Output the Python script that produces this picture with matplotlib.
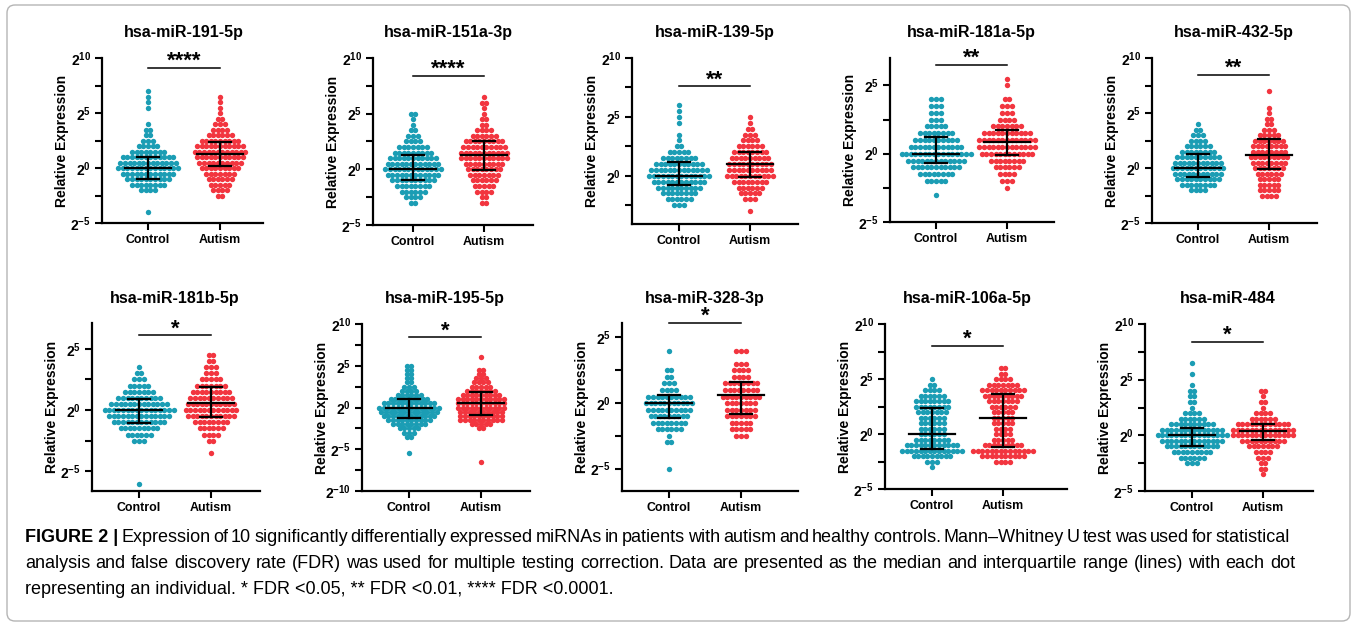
import numpy as np
import matplotlib
matplotlib.use("Agg")
import matplotlib.pyplot as plt
from matplotlib import font_manager
from matplotlib.patches import FancyBboxPatch
from matplotlib.transforms import blended_transform_factory

W, H = 1355, 625

groups = ["Control", "Autism"]
mirnas = ["hsa-miR-191-5p", "hsa-miR-151a-3p", "hsa-miR-139-5p", "hsa-miR-181a-5p",
          "hsa-miR-432-5p", "hsa-miR-181b-5p", "hsa-miR-195-5p", "hsa-miR-328-3p",
          "hsa-miR-106a-5p", "hsa-miR-484"]
stars = ["****", "****", "**", "**", "**", "*", "*", "*", "*", "*"]

# number of individuals per log2 level (0.5 steps), starting from the lowest level
step = 0.5
ctrl_low = [-4, -3, -2.5, -3, -2, -6, -5.5, -5, -3, -2.5]
ctrl_counts = [
    [1, 0, 0, 0, 4, 8, 10, 12, 14, 13, 12, 8, 5, 3, 2, 2, 1, 0, 0, 1, 1, 1, 1],
    [2, 4, 6, 8, 10, 12, 13, 12, 11, 9, 7, 4, 3, 2, 1, 1, 2],
    [3, 6, 8, 10, 12, 14, 13, 11, 8, 5, 2, 1, 1, 0, 1, 1, 1, 1],
    [1, 0, 5, 8, 11, 13, 16, 12, 10, 8, 5, 3, 3, 3, 3],
    [4, 8, 10, 11, 12, 11, 10, 8, 6, 4, 3, 2, 1],
    [1, 0, 0, 0, 0, 0, 0, 3, 6, 9, 12, 14, 16, 13, 10, 7, 5, 3, 2, 1],
    [1, 0, 0, 0, 2, 3, 5, 8, 10, 12, 13, 14, 12, 9, 6, 4, 3, 2, 2, 2, 2, 2],
    [1, 0, 0, 0, 2, 1, 6, 8, 9, 10, 11, 10, 4, 3, 2, 2, 0, 0, 1],
    [1, 3, 9, 14, 12, 8, 6, 6, 6, 6, 7, 8, 8, 6, 4, 2, 1],
    [3, 6, 9, 12, 14, 16, 14, 10, 6, 4, 1, 2, 2, 2, 1, 0, 1, 0, 1],
]
aut_low = [-2.5, -3, -3, -2.5, -2.5, -3.5, -6.5, -2.5, -2.5, -3.5]
aut_counts = [
    [2, 4, 5, 6, 7, 9, 10, 11, 12, 11, 9, 6, 4, 3, 2, 1, 1, 1, 1],
    [2, 2, 4, 5, 6, 7, 8, 9, 11, 11, 10, 9, 6, 4, 2, 2, 1, 1, 2, 1],
    [1, 0, 3, 5, 6, 8, 11, 10, 10, 9, 8, 6, 4, 3, 2, 1, 1],
    [1, 3, 4, 6, 8, 12, 13, 13, 11, 7, 4, 3, 3, 2, 0, 1, 1],
    [4, 5, 5, 5, 6, 7, 8, 9, 8, 8, 7, 5, 3, 2, 2, 1, 1, 0, 0, 1],
    [1, 0, 2, 4, 6, 8, 11, 12, 11, 10, 9, 7, 5, 3, 3, 2, 2],
    [1, 0, 0, 0, 0, 0, 0, 0, 2, 5, 10, 10, 10, 11, 11, 11, 9, 7, 5, 4, 3, 2, 2, 0, 0, 1],
    [3, 5, 5, 7, 7, 7, 9, 8, 8, 4, 4, 3, 0, 3],
    [4, 10, 14, 9, 5, 4, 4, 5, 5, 5, 6, 7, 9, 10, 7, 4, 2, 2],
    [1, 2, 2, 3, 4, 7, 10, 14, 14, 12, 6, 4, 1, 2, 1, 2],
]

# median and interquartile range (log2)
ctrl_med = [0, 0, 0, 0, 0, 0, 0, 0, 0, 0]
ctrl_q1 = [-1.0, -1.0, -0.75, -0.65, -0.85, -1.05, -1.2, -1.15, -1.4, -1.0]
ctrl_q3 = [1.0, 1.3, 1.2, 1.25, 1.3, 0.9, 1.0, 0.6, 2.35, 0.65]
aut_med = [1.3, 1.25, 1.0, 0.85, 1.15, 0.55, 0.5, 0.6, 1.5, 0.35]
aut_q1 = [0.2, -0.05, -0.1, -0.1, -0.1, -0.55, -0.9, -0.85, -1.2, -0.4]
aut_q3 = [2.4, 2.55, 2.05, 1.7, 2.65, 1.85, 1.85, 1.6, 3.65, 1.05]

# significance bracket height (log2)
sig_y = [9.1, 8.4, 7.6, 6.5, 8.5, 6.1, 8.4, 6.1, 8.0, 8.4]

caption1 = ("Expression of 10 significantly differentially expressed miRNAs in patients "
            "with autism and healthy controls. Mann\u2013Whitney U test was used for statistical")
caption2 = ("analysis and false discovery rate (FDR) was used for multiple testing correction. "
            "Data are presented as the median and interquartile range (lines) with each dot")
caption3 = "representing an individual. * FDR <0.05, ** FDR <0.01, **** FDR <0.0001."

plt.rcParams["font.family"] = ["Liberation Sans", "DejaVu Sans"]
plt.rcParams["mathtext.fontset"] = "custom"
plt.rcParams["mathtext.rm"] = "Liberation Sans"
plt.rcParams["mathtext.bf"] = "Liberation Sans:bold"

teal = "#1b9db4"
red = "#f2353f"

# panel frames in pixels: left, top, right, bottom, x of Control, x of Autism
frames = [
    (102, 58, 263, 223, 148, 220),
    (373, 58, 533, 225, 413, 484),
    (632, 58, 798, 224, 679, 750),
    (890, 58, 1054, 222, 936, 1007),
    (1152, 58, 1317, 223, 1198, 1269),
    (92, 323, 260, 491, 139, 211),
    (362, 324, 530, 491, 409, 481),
    (622, 323, 798, 491, 669, 741),
    (885, 324, 1067, 489, 932, 1003),
    (1145, 324, 1313, 491, 1192, 1263),
]
ylims = [(-5, 10), (-5, 10), (-4.1, 10), (-5, 7), (-5, 10),
         (-6.6, 7.1), (-10, 10), (-6.7, 6.1), (-5, 10), (-5, 10)]
title_y = [32] * 5 + [299] * 5

fig = plt.figure(figsize=(W / 100, H / 100), dpi=100)


def px_rect(l, t, r, b):
    return [l / W, 1 - b / H, (r - l) / W, (b - t) / H]


for i in range(10):
    l, t, r, b, c0, c1 = frames[i]
    ax = fig.add_axes(px_rect(l, t, r, b))
    unit = c1 - c0
    ax.set_xlim((l - c0) / unit, (r - c0) / unit)
    lo, hi = ylims[i]
    ax.set_ylim(lo, hi)
    dx = 4.6 / unit

    sets = [(0, ctrl_low[i], ctrl_counts[i], teal), (1, aut_low[i], aut_counts[i], red)]
    for x0, low, counts, color in sets:
        xs, ys = [], []
        for j, n in enumerate(counts):
            off = (np.arange(n) - (n - 1) / 2) * dx
            xs.extend(x0 + off)
            ys.extend([low + step * j] * n)
        ax.scatter(xs, ys, s=15, color=color, linewidths=0, zorder=2, clip_on=False)

    stats = [(0, ctrl_med[i], ctrl_q1[i], ctrl_q3[i]), (1, aut_med[i], aut_q1[i], aut_q3[i])]
    for x0, med, q1, q3 in stats:
        ax.plot([x0 - 0.32, x0 + 0.32], [med, med], color="black", lw=1.6, zorder=3)
        ax.plot([x0, x0], [q1, q3], color="black", lw=1.6, zorder=3)
        for q in (q1, q3):
            ax.plot([x0 - 0.15, x0 + 0.15], [q, q], color="black", lw=1.6, zorder=3)

    # significance bracket
    ax.plot([0, 1], [sig_y[i], sig_y[i]], color="black", lw=1.1, clip_on=False)
    ax.annotate(stars[i], (0.5, sig_y[i]), xytext=(0, -3), textcoords="offset points",
                ha="center", va="bottom", fontsize=16, fontweight="bold",
                annotation_clip=False)

    # axes style
    for side in ("top", "right"):
        ax.spines[side].set_visible(False)
    for side in ("left", "bottom"):
        ax.spines[side].set_linewidth(1.6)
    major = [k for k in range(-10, 11, 5) if lo - 1e-6 <= k <= hi + 1e-6]
    minor = [k + 2.5 for k in range(-15, 11, 5) if lo - 1e-6 <= k + 2.5 <= hi + 1e-6]
    ax.set_yticks(major)
    ax.set_yticklabels([r"$\mathbf{2^{%d}}$" % k for k in major])
    ax.set_yticks(minor, minor=True)
    ax.tick_params(axis="y", which="both", length=5, width=1.5, labelsize=10, pad=3)
    ax.set_xticks([0, 1])
    ax.set_xticklabels(groups, fontweight="bold", fontsize=8.9)
    ax.tick_params(axis="x", length=5, width=1.5, pad=3)

    tr = blended_transform_factory(ax.transData, fig.transFigure)
    ax.text(0.5, 1 - title_y[i] / H, mirnas[i], transform=tr, ha="center", va="center",
            fontsize=11.5, fontweight="bold")
    fig.text((l - 40) / W, 1 - (t + b) / 2 / H, "Relative Expression", rotation=90,
             ha="center", va="center", fontsize=10, fontweight="bold")

# caption
try:
    font_manager.findfont("Liberation Sans Narrow", fallback_to_default=False)
    cap_family = "Liberation Sans Narrow"
except ValueError:
    cap_family = "Liberation Sans"

renderer = fig.canvas.get_renderer()
probe = fig.text(0, 0, caption3, fontsize=11, family=cap_family)
cap_size = 11 * 587 / probe.get_window_extent(renderer).width
probe.remove()


def justify(y, x0, x1, pieces):
    texts = [fig.text(0, 1 - y / H, w, fontsize=cap_size, fontweight=wt,
                      family=cap_family, va="center") for w, wt in pieces]
    widths = [t.get_window_extent(renderer).width for t in texts]
    gap = (x1 - x0 - sum(widths)) / (len(texts) - 1)
    x = x0
    for t, w in zip(texts, widths):
        t.set_x(x / W)
        x += w + gap


justify(538, 25, 1290, [("FIGURE 2 |", "bold")] + [(w, "normal") for w in caption1.split()])
justify(564, 25, 1295, [(w, "normal") for w in caption2.split()])
fig.text(25 / W, 1 - 590 / H, caption3, fontsize=cap_size, family=cap_family, va="center")

border = FancyBboxPatch((7, 4), 1343, 616, boxstyle="round,pad=0,rounding_size=8",
                        transform=None, fill=False, edgecolor="#b5b5b5", lw=1)
fig.add_artist(border)

fig.savefig("out.png", dpi=100)
